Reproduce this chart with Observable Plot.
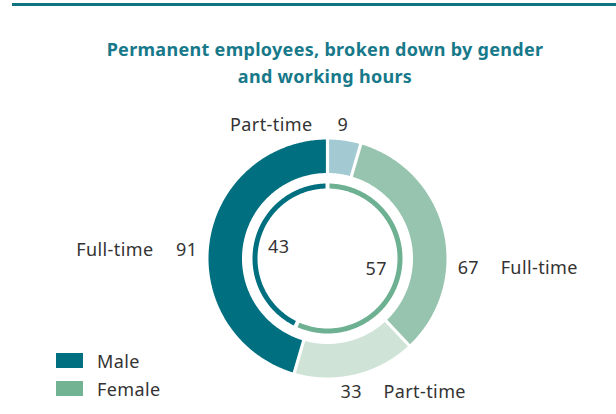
<!DOCTYPE html>
<html><head><meta charset="utf-8">
<script src="https://cdn.jsdelivr.net/npm/d3@7"></script>
<script src="https://cdn.jsdelivr.net/npm/@observablehq/plot@0.6"></script>
<style>
body{margin:0;background:#fff;font-family:"Noto Sans",sans-serif;color:#333;}
#wrap{position:relative;width:616px;height:414px;overflow:hidden;}
#rule{position:absolute;left:12px;right:0;top:3px;height:2.5px;background:#0E7482;}
#title{position:absolute;left:0;width:650px;top:35.5px;text-align:center;font-weight:700;font-size:18px;letter-spacing:0.3px;line-height:27px;color:#17798A;}
#chart{position:absolute;left:0;top:100px;}
.leg{position:absolute;left:56px;font-size:18px;line-height:20px;letter-spacing:0.4px;color:#333;}
.leg i{position:absolute;left:0;top:2px;width:27px;height:15px;}
.leg span{position:absolute;left:41px;top:0;white-space:nowrap;}
</style></head>
<body>
<div id="wrap">
  <div id="rule"></div>
  <div id="title">Permanent employees, broken down by gender<br>and working hours</div>
  <div id="chart"></div>
  <div class="leg" style="top:350.5px"><i style="background:#006F7F"></i><span>Male</span></div>
  <div class="leg" style="top:379px"><i style="background:#72B394"></i><span>Female</span></div>
</div>
<script>
// ---- data ----
const outerCategories = ["Part-time", "Full-time", "Part-time", "Full-time"];
const outerGenders = ["Male", "Female", "Female", "Male"];
const outerValues = [9, 67, 33, 91];
const innerCategories = ["Female", "Male"];
const innerValues = [57, 43];

// ---- styling / layout ----
const outerColors = ["#A3C9D3", "#97C4AE", "#CFE3D7", "#006F7F"];
const innerColors = ["#6DB192", "#006F7F"];
const W = 616, H = 314, cx = 327, cy = 158;
const R_OUT = 119, R_IN = 85.5, r_out = 75, r_in = 70;
const FS = 18;

function arcPoly(a0, a1, r0, r1, gap) {
  const pts = [];
  const n = Math.max(12, Math.ceil((a1 - a0) * 80));
  const o1 = Math.asin(gap / 2 / r1), o0 = Math.asin(gap / 2 / r0);
  for (let i = 0; i <= n; i++) {
    const a = a0 + o1 + (a1 - a0 - 2 * o1) * i / n;
    pts.push({x: r1 * Math.sin(a), y: r1 * Math.cos(a)});
  }
  for (let i = n; i >= 0; i--) {
    const a = a0 + o0 + (a1 - a0 - 2 * o0) * i / n;
    pts.push({x: r0 * Math.sin(a), y: r0 * Math.cos(a)});
  }
  return pts;
}

const pie = d3.pie().sort(null).value(d => d);
const outerArcs = pie(outerValues);
const innerArcs = pie(innerValues);

const marks = [];
outerArcs.forEach((a, i) => {
  marks.push(Plot.line(arcPoly(a.startAngle, a.endAngle, R_IN, R_OUT, 3.2), {x: "x", y: "y", fill: outerColors[i], stroke: "none"}));
});
innerArcs.forEach((a, i) => {
  marks.push(Plot.line(arcPoly(a.startAngle, a.endAngle, r_in, r_out, 4), {x: "x", y: "y", fill: innerColors[i], stroke: "none"}));
});

// label anchors from each slice's mid-angle (r=140), with manual nudges
// value: {anchor, dx}, category: {anchor, dx}, shared dy
const nudges = [
  {v: ["start", -9.7], c: ["end", -34.7], dy: 5},
  {v: ["start", -6], c: ["start", 37], dy: 42},
  {v: ["start", -19.7], c: ["start", 23.3], dy: -2.8},
  {v: ["end", 8.6], c: ["end", -35.4], dy: 11}
];
const labels = [];
outerArcs.forEach((a, i) => {
  const m = (a.startAngle + a.endAngle) / 2, r = 140;
  const x = r * Math.sin(m), y = r * Math.cos(m);
  const nd = nudges[i];
  labels.push({x, y, text: String(outerValues[i]), anchor: nd.v[0], dx: nd.v[1], dy: nd.dy});
  labels.push({x, y, text: outerCategories[i], anchor: nd.c[0], dx: nd.c[1], dy: nd.dy});
});
const innerLabels = innerArcs.map((a, i) => {
  const m = (a.startAngle + a.endAngle) / 2;
  return {x: 50 * Math.sin(m), y: 50 * Math.cos(m), text: String(innerValues[i])};
});

for (const d of labels) marks.push(Plot.text([d], {x: "x", y: "y", text: "text", textAnchor: d.anchor, dx: d.dx, dy: d.dy, fontSize: FS, fill: "#333"}));
marks.push(Plot.text(innerLabels, {x: "x", y: "y", text: "text", textAnchor: "middle", fontSize: FS, fill: "#333"}));

const plot = Plot.plot({
  width: W, height: H,
  margin: 0,
  x: {domain: [-cx, W - cx], axis: null},
  y: {domain: [cy - H, cy], axis: null},
  style: {fontFamily: "'Noto Sans', sans-serif", letterSpacing: "0.4px", background: "transparent", overflow: "visible"},
  marks
});
document.getElementById("chart").appendChild(plot);
</script>
</body></html>
